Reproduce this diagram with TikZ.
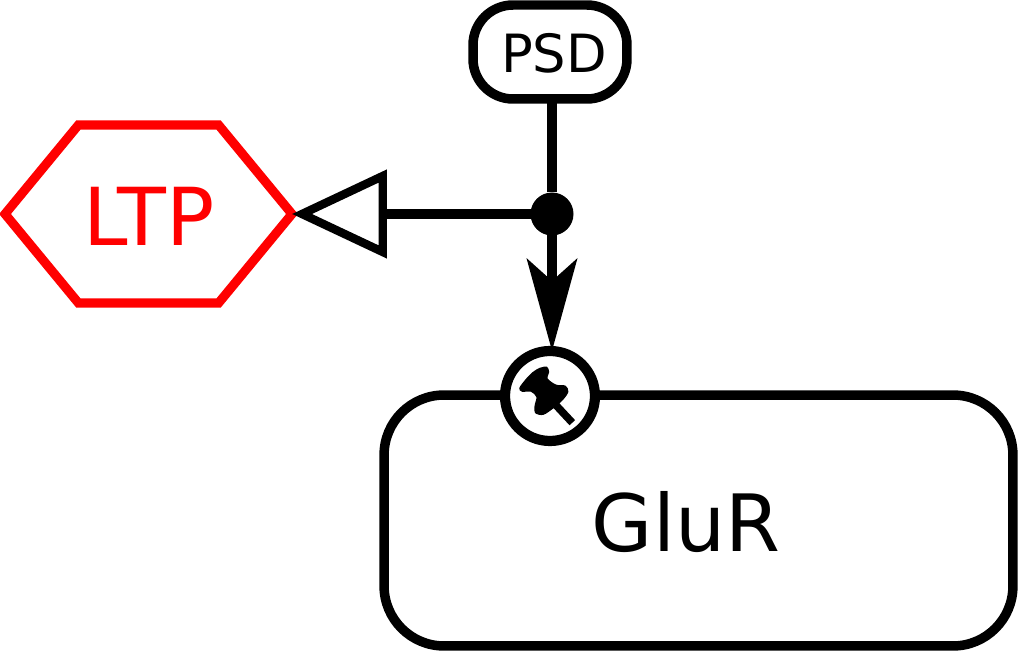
\documentclass[tikz,border=0pt]{standalone}
\usepackage{fontspec}
\setmainfont{DejaVu Sans}
\usetikzlibrary{
  arrows.meta,
  positioning,
  shapes.geometric,
  shapes.symbols
}
\definecolor{ltpred}{HTML}{FF0000}

\begin{document}
\begin{tikzpicture}[
  x=0.02cm, y=-0.02cm,
  psdbox/.style={
    draw, rounded corners=0.8cm, minimum width=3.08cm, minimum height=1.88cm,
    line width=5.4pt, outer sep=0pt, fill=white,
  },
  psdtext/.style={font=\fontsize{30}{36}\selectfont},
  ltphex/.style={
    draw=ltpred, signal, signal to=west and east, signal pointer angle=101,
    minimum width=5.74cm, minimum height=3.56cm, inner sep=0pt,
    line width=5.2pt, outer sep=0pt, miter limit=10,
  },
  ltptext/.style={text=ltpred, font=\fontsize{45.5}{52}\selectfont},
  glurbox/.style={
    draw, rounded corners=1.2cm, minimum width=12.58cm, minimum height=5.02cm,
    line width=5.4pt, outer sep=0pt, fill=white,
  },
  glurtext/.style={font=\fontsize{45}{52}\selectfont},
  pinring/.style={
    draw, circle, minimum size=1.8cm, line width=5.8pt, outer sep=0pt, fill=white,
  },
  junction/.style={
    fill, circle, minimum size=0.86cm, inner sep=0pt, outer sep=0pt,
  },
  link/.style={line width=5.67pt},
  modulate/.style={-{Triangle[open, length=1.9cm, width=1.74cm, line width=4.8pt]}},
  stimulate/.style={-{Stealth[length=1.84cm, width=1cm, inset=0.44cm]}},
]
\useasboundingbox (0,0) rectangle (1018,651);

% Boxes
\node[psdbox] (psd) at (550,52) {};
\node[psdtext] (psdlabel) at (554,53) {PSD};
\node[ltphex] (ltp) at (148.5,214) {};
\node[ltptext] (ltplabel) at (149,216) {LTP};
\node[glurbox] (glur) at (698.5,520.5) {};
\node[glurtext] (glurlabel) at (686,522) {GluR};
\node[pinring] (pinmark) at (550,396) {};
\node[junction] (branch) at (552,214) {};

% Connectors
\draw[link] (psd.south -| branch) -- (branch);
\draw[link, modulate] (branch) -- (ltp.east);
\draw[link, stimulate] (branch) -- (branch |- pinmark.north);

% Pin glyph
\draw[line width=4.3pt] (553,402) -- (572.3,422.7);
\begin{scope}[scale around={1.07:(542,391)}]
\fill plot[smooth cycle, tension=0.5] coordinates {
  (540,369.3) (546.7,368.3) (548.7,373.3) (547.3,379.3) (555,385) (564,386)
  (566.7,391.7) (561.7,399.3) (553.3,406.7) (543.3,413.3) (535.7,411.7) (535,405)
  (536.7,396.7) (531.7,391.7) (523.3,391.7) (520.7,388.3) (526.7,380) (533.3,373.3)
};
\end{scope}
\end{tikzpicture}
\end{document}
